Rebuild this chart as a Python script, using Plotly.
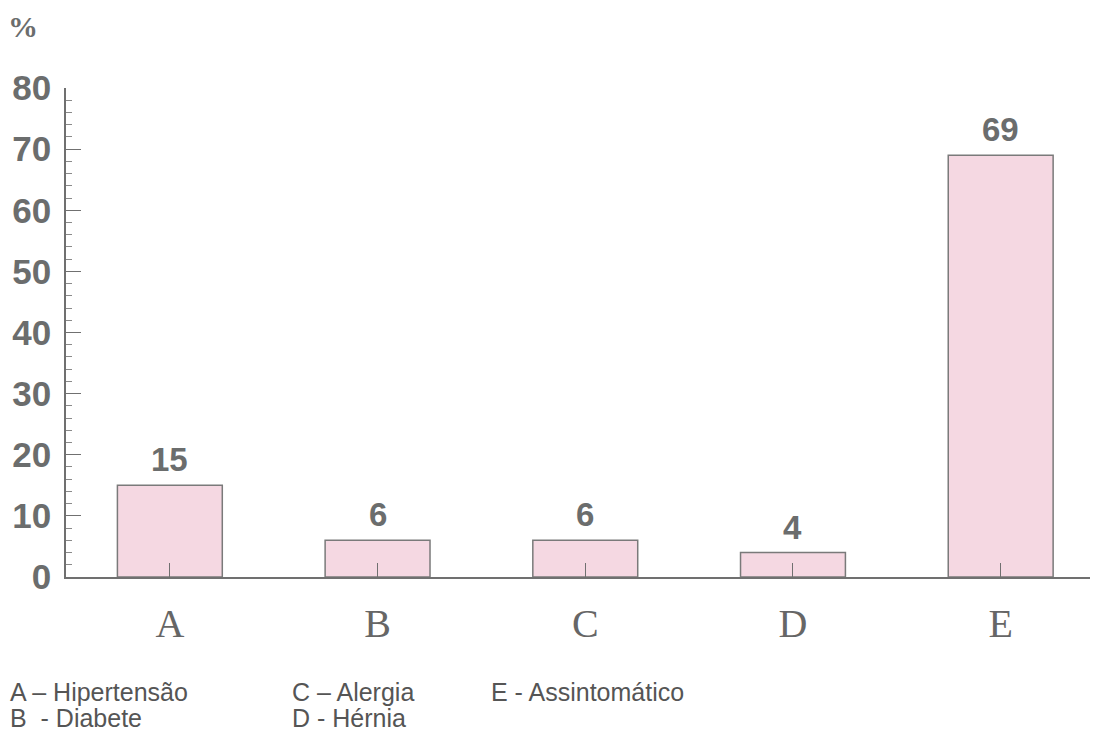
import plotly.graph_objects as go

categories = ["A", "B", "C", "D", "E"]
values = [15, 6, 6, 4, 69]
y_ticks = [0, 10, 20, 30, 40, 50, 60, 70, 80]
legend_rows = [
    ["A – Hipertensão", "C – Alergia", "E - Assintomático"],
    ["B  - Diabete", "D - Hérnia", ""],
]
legend_x = [8, 290, 489]
legend_y = [692, 718]

gray = "#6b6d6d"
W, H = 1095, 731
ML, MR, MT, MB = 66, 5, 88, 154
PW, PH = W - ML - MR, H - MT - MB


def px(x):
    return (x - ML) / PW


def py(y):
    return (H - MB - y) / PH


fig = go.Figure()
fig.add_trace(go.Bar(
    x=categories, y=values, width=0.505,
    marker=dict(color="#f5d8e2", line=dict(color="#7a7a7a", width=1.5)),
    hoverinfo="skip",
))

for c, v in zip(categories, values):
    fig.add_annotation(x=c, y=v, text=f"<b>{v}</b>", showarrow=False,
                       yanchor="bottom", yshift=5,
                       font=dict(family="Liberation Sans, Arial", size=33, color=gray))

for r, row in enumerate(legend_rows):
    for k, t in enumerate(row):
        if not t:
            continue
        fig.add_annotation(x=px(legend_x[k]), y=py(legend_y[r]), xref="paper", yref="paper",
                           text=t, showarrow=False, xanchor="left", yanchor="middle",
                           font=dict(family="Liberation Sans, Arial", size=25, color="#555555"))

fig.add_annotation(x=px(6), y=py(27), xref="paper", yref="paper", text="<b>%</b>",
                   showarrow=False, xanchor="left", yanchor="middle",
                   font=dict(family="Liberation Serif, Times New Roman", size=30, color=gray))

fig.update_layout(
    width=W, height=H,
    paper_bgcolor="white", plot_bgcolor="white",
    margin=dict(l=ML, r=MR, t=MT, b=MB),
    showlegend=False,
    xaxis=dict(
        range=[-0.5, 4.43], showgrid=False, zeroline=False,
        showline=True, linecolor="#707070", linewidth=1.5,
        ticks="inside", ticklen=14, tickcolor="#707070", tickwidth=1.2,
        tickfont=dict(family="Liberation Serif, Times New Roman", size=40, color="#666666"),
        ticklabelstandoff=10,
    ),
    yaxis=dict(
        range=[0, 80], showgrid=False, zeroline=False,
        showline=True, linecolor="#707070", linewidth=1.5,
        tickvals=y_ticks, ticktext=[f"<b>{t}</b>" for t in y_ticks],
        ticks="inside", ticklen=15, tickcolor="#707070", tickwidth=1.2,
        minor=dict(dtick=2, ticks="inside", ticklen=6, tickcolor="#8a8a8a", tickwidth=1),
        tickfont=dict(family="Liberation Sans, Arial", size=35, color=gray),
        ticklabelstandoff=6,
    ),
)

fig.write_html("out.html")
